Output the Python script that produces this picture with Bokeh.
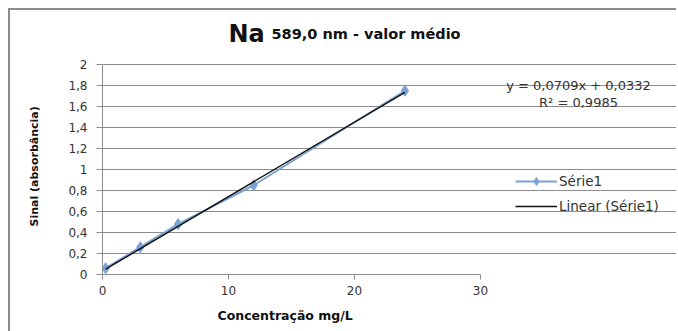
import numpy as np
from bokeh.plotting import figure
from bokeh.models import FixedTicker, Label, Legend, LegendItem, Range1d, Title
from bokeh.embed import file_html
from bokeh.resources import INLINE

# ---- data ----
concentracao = [0.25, 3, 6, 12, 24]
sinal = [0.06, 0.26, 0.48, 0.85, 1.75]
slope = 0.0709
intercept = 0.0332
r_squared = 0.9985
x_ticks = [0, 10, 20, 30]
x_tick_labels = ["0", "10", "20", "30"]
y_ticks = [0, 0.2, 0.4, 0.6, 0.8, 1.0, 1.2, 1.4, 1.6, 1.8, 2.0]
y_tick_labels = ["0", "0,2", "0,4", "0,6", "0,8", "1", "1,2", "1,4", "1,6", "1,8", "2"]
X_MAX, Y_MAX = 30, 2

FONT = "DejaVu Sans"
BLUE = "#7aa2d4"
GRID = "#8c8c8c"
TXT = "#333333"

W, H = 676, 331
# plot area in canvas pixels: x 0..30 -> 102..480, y 0..2 -> 274..64
PX0, PX1, PY0, PY1 = 102, 480, 274, 64
x_end = X_MAX * (W - PX0) / (PX1 - PX0)
y_end = Y_MAX * (PY0 - 0) / (PY0 - PY1)

p = figure(width=W, height=H, x_range=Range1d(0, x_end), y_range=Range1d(0, y_end),
           output_backend="svg", toolbar_location=None,
           min_border_left=PX0, min_border_right=0, min_border_top=0,
           min_border_bottom=H - PY0,
           background_fill_alpha=0, border_fill_alpha=0,
           outline_line_color=None)
# outer chart frame (left and top edges) drawn as the page background
p.styles = {
    "background-color": "white",
    "background-image": "linear-gradient(#8c8c8c, #8c8c8c), linear-gradient(#8c8c8c, #8c8c8c)",
    "background-size": "2px 100%, 100% 2px",
    "background-position": "8px 8px, 8px 8px",
    "background-repeat": "no-repeat",
}

# axes
p.xaxis.ticker = FixedTicker(ticks=x_ticks)
p.xaxis.major_label_overrides = dict(zip(x_ticks, x_tick_labels))
p.xaxis.bounds = (0, X_MAX)
p.yaxis.ticker = FixedTicker(ticks=y_ticks)
p.yaxis.major_label_overrides = dict(zip(y_ticks, y_tick_labels))
p.yaxis.bounds = (0, Y_MAX)
p.ygrid.ticker = FixedTicker(ticks=y_ticks)
p.ygrid.grid_line_color = GRID
p.ygrid.bounds = (0, X_MAX)
p.xgrid.grid_line_color = None

for ax in (p.xaxis, p.yaxis):
    ax.axis_line_color = GRID
    ax.major_tick_line_color = GRID
    ax.major_tick_in = 0
    ax.minor_tick_in = 0
    ax.minor_tick_out = 0
    ax.major_label_text_font = FONT
    ax.major_label_text_font_size = "12px"
    ax.major_label_text_color = TXT

p.xaxis.major_tick_out = 5
p.xaxis.major_label_standoff = 6
p.yaxis.major_tick_out = 6
p.yaxis.major_label_standoff = 9

# axis titles, aligned on the plotted range
p.add_layout(Title(text="Concentração mg/L", align="left", offset=217 - PX0, standoff=16,
                   text_font=FONT, text_font_style="bold", text_font_size="12.5px",
                   text_color="#111111"), "below")
p.add_layout(Title(text="Sinal (absorbância)", align="left", offset=PY0 - 226, standoff=50,
                   text_font=FONT, text_font_style="bold", text_font_size="11px",
                   text_color="#111111"), "left")

# series
r_line = p.line(concentracao, sinal, line_color=BLUE, line_width=2)
r_pts = p.scatter(concentracao, sinal, marker="diamond", size=11,
                  fill_color=BLUE, line_color=BLUE)
tx = np.array([min(concentracao), max(concentracao)])
ty = slope * tx + intercept
r_trend = p.line(tx, ty, line_color="#111111", line_width=1.5)

legend = Legend(items=[LegendItem(label="Série1", renderers=[r_line, r_pts]),
                       LegendItem(label="Linear (Série1)", renderers=[r_trend])],
                location=(515 - PX0, PY0 - 216), padding=0, margin=0,
                border_line_color=None, background_fill_alpha=0,
                glyph_width=42, glyph_height=20, label_height=20, spacing=5,
                label_standoff=2, label_text_font=FONT, label_text_font_size="13.5px",
                label_text_color=TXT)
p.add_layout(legend)

# canvas-pixel helpers for annotation placement
def dx(px):
    return (px - PX0) / (PX1 - PX0) * X_MAX

def dy(py):
    return (PY0 - py) / (PY0 - PY1) * Y_MAX

p.add_layout(Label(x=dx(228), y=dy(33), text="Na", text_font=FONT, text_font_style="bold",
                   text_font_size="24px", text_color="#111111", text_baseline="alphabetic"))
p.add_layout(Label(x=dx(271), y=dy(33), text="589,0 nm - valor médio", text_font=FONT,
                   text_font_style="bold", text_font_size="14.5px", text_color="#111111",
                   text_baseline="alphabetic"))

eq = f"y = {slope:.4f}x + {intercept:.4f}".replace(".", ",")
r2txt = f"R² = {r_squared:.4f}".replace(".", ",")
p.add_layout(Label(x=dx(578), y=dy(85), text=eq, text_font=FONT, text_font_size="13px",
                   text_color=TXT, text_align="center", text_baseline="middle"))
p.add_layout(Label(x=dx(578), y=dy(102), text=r2txt, text_font=FONT, text_font_size="13px",
                   text_color=TXT, text_align="center", text_baseline="middle"))

open("out.html", "w").write(file_html(p, INLINE))
